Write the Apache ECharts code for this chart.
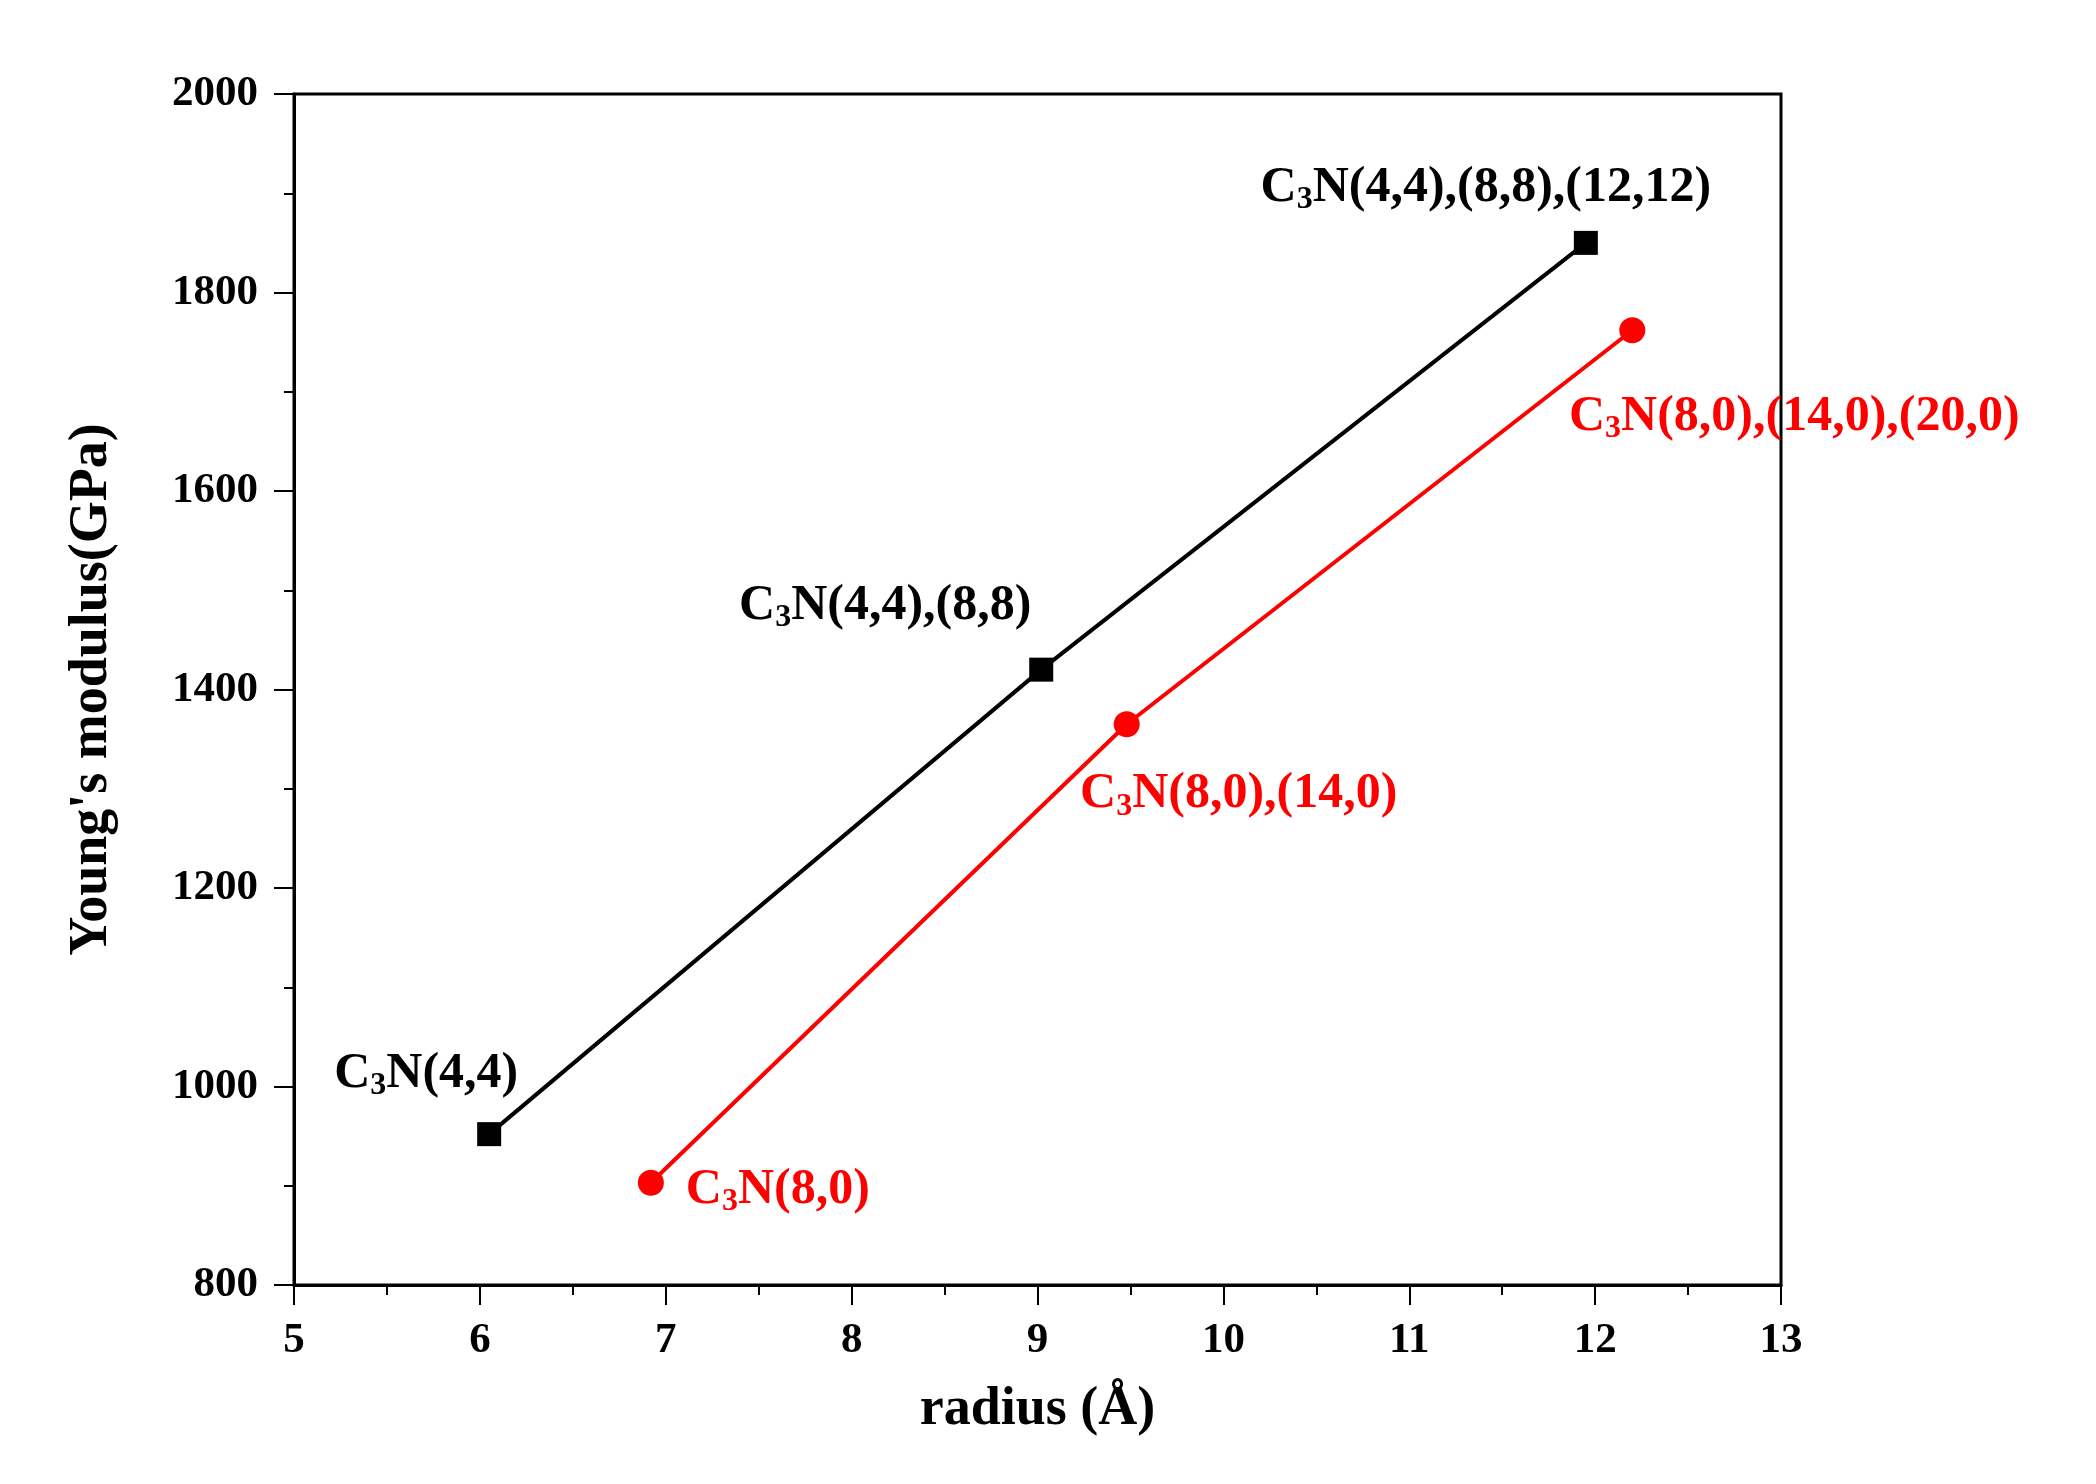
<!DOCTYPE html>
<html>
<head>
<meta charset="utf-8">
<script src="https://cdn.jsdelivr.net/npm/echarts@6/dist/echarts.min.js"></script>
<style>html,body{margin:0;background:#fff}#chart{width:2096px;height:1484px}</style>
</head>
<body>
<div id="chart"></div>
<script>
// armchair (n,n) tubes
var armRadius = [6.05, 9.02, 11.95];
var armModulus = [952, 1420, 1850];
var armLabels = ['(4,4)', '(4,4),(8,8)', '(4,4),(8,8),(12,12)'];
// zigzag (n,0) tubes
var zigRadius = [6.92, 9.48, 12.2];
var zigModulus = [903, 1365, 1762];
var zigLabels = ['(8,0)', '(8,0),(14,0)', '(8,0),(14,0),(20,0)'];

var armOffsets = [[-63, -60], [-156, -64], [-100, -55]];
var zigOffsets = [[127, 7], [112, 70], [162, 87]];

var FONT = 'Liberation Serif';

function rich(color) {
    return {
        t: {fontFamily: FONT, fontWeight: 'bold', fontSize: 50, color: color},
        s: {fontFamily: FONT, fontWeight: 'bold', fontSize: 32, color: color, padding: [24, 0, 0, 0]}
    };
}

function buildData(xs, ys, labels, offsets) {
    var out = [];
    for (var i = 0; i < xs.length; i++) {
        out.push({
            value: [xs[i], ys[i]],
            label: {show: true, position: 'inside', offset: offsets[i],
                formatter: '{t|C}{s|3}{t|N' + labels[i] + '}'}
        });
    }
    return out;
}

var chart = echarts.init(document.getElementById('chart'));

var axisText = {fontFamily: FONT, fontWeight: 'bold', fontSize: 43, color: '#000',
    formatter: function (v) { return String(v); }};

chart.setOption({
    animation: false,
    grid: {left: 294, right: 315, top: 94, bottom: 199},
    xAxis: {
        type: 'value', min: 5, max: 13, interval: 1,
        name: 'radius (Å)', nameLocation: 'middle', nameGap: 98,
        nameTextStyle: {fontFamily: FONT, fontWeight: 'bold', fontSize: 54, color: '#000'},
        axisLine: {onZero: false, lineStyle: {color: '#000', width: 3}},
        axisTick: {length: 20, lineStyle: {color: '#000', width: 2}},
        minorTick: {show: true, splitNumber: 2, length: 10, lineStyle: {color: '#000', width: 2}},
        axisLabel: Object.assign({margin: 34}, axisText),
        splitLine: {show: false}
    },
    yAxis: {
        type: 'value', min: 800, max: 2000, interval: 200,
        name: "Young's modulus(GPa)", nameLocation: 'middle', nameGap: 175,
        nameTextStyle: {fontFamily: FONT, fontWeight: 'bold', fontSize: 54, color: '#000'},
        axisLine: {onZero: false, lineStyle: {color: '#000', width: 3}},
        axisTick: {length: 20, lineStyle: {color: '#000', width: 2}},
        minorTick: {show: true, splitNumber: 2, length: 10, lineStyle: {color: '#000', width: 2}},
        axisLabel: Object.assign({margin: 36}, axisText),
        splitLine: {show: false}
    },
    graphic: [{
        type: 'rect', shape: {x: 294, y: 94, width: 1487, height: 1191},
        style: {fill: 'none', stroke: '#000', lineWidth: 3}, silent: true
    }],
    series: [{
        type: 'line', symbol: 'rect', symbolSize: 24,
        itemStyle: {color: '#000'}, lineStyle: {color: '#000', width: 4},
        label: {rich: rich('#000')},
        data: buildData(armRadius, armModulus, armLabels, armOffsets)
    }, {
        type: 'line', symbol: 'circle', symbolSize: 26,
        itemStyle: {color: '#f00'}, lineStyle: {color: '#f00', width: 4},
        label: {rich: rich('#f00')},
        data: buildData(zigRadius, zigModulus, zigLabels, zigOffsets)
    }]
});
</script>
</body>
</html>
